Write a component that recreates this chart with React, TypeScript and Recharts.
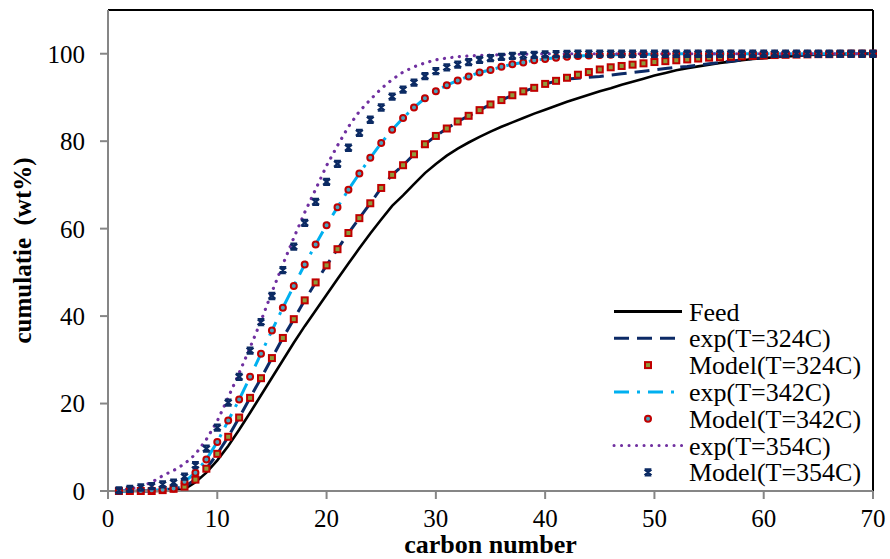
import { ComposedChart, Line, XAxis, YAxis, ReferenceLine } from 'recharts'

const FONT = '"Liberation Serif", "Times New Roman", serif'

// carbon numbers 1..70
const carbon = [
  1, 2, 3, 4, 5, 6, 7, 8, 9, 10, 11, 12, 13, 14, 15, 16, 17, 18, 19, 20,
  21, 22, 23, 24, 25, 26, 27, 28, 29, 30, 31, 32, 33, 34, 35, 36, 37, 38, 39, 40,
  41, 42, 43, 44, 45, 46, 47, 48, 49, 50, 51, 52, 53, 54, 55, 56, 57, 58, 59, 60,
  61, 62, 63, 64, 65, 66, 67, 68, 69, 70,
]

const feed = [
  0, 0, 0, 0, 0, 0.1, 0.4, 2.0, 4.2, 7.0,
  10.3, 14.0, 17.9, 21.9, 25.9, 29.9, 33.9, 37.7, 41.3, 44.9,
  48.5, 52.0, 55.5, 58.9, 62.1, 65.2, 67.6, 70.2, 72.7, 74.8,
  76.7, 78.3, 79.7, 81.0, 82.2, 83.3, 84.3, 85.3, 86.3, 87.2,
  88.1, 89.0, 89.8, 90.6, 91.4, 92.1, 92.9, 93.6, 94.3, 95.0,
  95.6, 96.2, 96.7, 97.1, 97.5, 97.9, 98.2, 98.5, 98.8, 99.0,
  99.2, 99.4, 99.5, 99.7, 99.8, 99.85, 99.9, 100, 100, 100,
]

const exp324 = [
  0, 0, 0, 0, 0.2, 0.5, 1.0, 2.6, 5.1, 8.5,
  12.4, 16.8, 21.3, 25.8, 30.4, 35.0, 39.3, 43.6, 47.7, 51.6,
  55.3, 59.0, 62.4, 65.8, 69.3, 72.3, 74.5, 77.0, 79.3, 81.2,
  82.9, 84.5, 85.8, 87.1, 88.4, 89.4, 90.5, 91.4, 92.2, 93.1,
  93.7, 94.2, 94.4, 94.6, 94.8, 95.1, 95.4, 95.7, 96.0, 96.3,
  96.6, 96.9, 97.1, 97.4, 97.7, 98.0, 98.3, 98.6, 98.9, 99.1,
  99.3, 99.5, 99.6, 99.7, 99.8, 99.85, 99.9, 99.95, 100, 100,
]

const model324 = [
  0, 0, 0, 0, 0.2, 0.5, 1.0, 2.6, 5.1, 8.5,
  12.4, 16.8, 21.3, 25.8, 30.4, 35.0, 39.3, 43.6, 47.7, 51.6,
  55.3, 59.0, 62.4, 65.8, 69.3, 72.3, 74.5, 77.0, 79.3, 81.2,
  82.9, 84.5, 85.8, 87.1, 88.4, 89.4, 90.5, 91.4, 92.2, 93.1,
  93.8, 94.5, 95.2, 95.8, 96.4, 96.9, 97.2, 97.5, 97.8, 98.1,
  98.3, 98.5, 98.7, 98.9, 99.1, 99.2, 99.3, 99.4, 99.5, 99.6,
  99.7, 99.75, 99.8, 99.85, 99.9, 99.9, 99.95, 100, 100, 100,
]

const exp342 = [
  0, 0, 0, 0.2, 0.3, 0.6, 2.1, 4.2, 7.2, 11.2,
  16.1, 20.9, 26.1, 31.4, 36.7, 41.9, 46.9, 51.8, 56.4, 60.8,
  64.9, 68.9, 72.6, 76.2, 79.6, 82.6, 85.3, 87.7, 89.8, 91.4,
  92.8, 93.9, 94.8, 95.7, 96.3, 97.0, 97.6, 98.0, 98.5, 98.8,
  99.1, 99.3, 99.5, 99.6, 99.7, 99.75, 99.8, 99.85, 99.9, 99.9,
  99.95, 100, 100, 100, 100, 100, 100, 100, 100, 100,
  100, 100, 100, 100, 100, 100, 100, 100, 100, 100,
]

const model342 = [
  0, 0, 0, 0.2, 0.3, 0.6, 2.1, 4.2, 7.2, 11.2,
  16.1, 20.9, 26.1, 31.4, 36.7, 41.9, 46.9, 51.8, 56.4, 60.8,
  64.9, 68.9, 72.6, 76.2, 79.6, 82.6, 85.3, 87.7, 89.8, 91.4,
  92.8, 93.9, 94.8, 95.7, 96.3, 97.0, 97.6, 98.0, 98.5, 98.8,
  99.1, 99.3, 99.5, 99.6, 99.7, 99.75, 99.8, 99.85, 99.9, 99.9,
  99.95, 100, 100, 100, 100, 100, 100, 100, 100, 100,
  100, 100, 100, 100, 100, 100, 100, 100, 100, 100,
]

const exp354 = [
  0.2, 0.5, 1.0, 2.0, 3.5, 4.7, 6.2, 8.4, 11.8, 16.0,
  21.4, 27.0, 32.8, 38.9, 45.5, 51.8, 57.9, 63.7, 69.0, 74.4,
  79.0, 83.3, 86.8, 89.5, 92.0, 94.1, 95.8, 97.0, 97.9, 98.6,
  99.0, 99.3, 99.5, 99.6, 99.7, 99.8, 99.85, 99.9, 99.95, 100,
  100, 100, 100, 100, 100, 100, 100, 100, 100, 100,
  100, 100, 100, 100, 100, 100, 100, 100, 100, 100,
  100, 100, 100, 100, 100, 100, 100, 100, 100, 100,
]

const model354 = [
  0.15, 0.5, 0.8, 1.1, 1.5, 1.9, 3.3, 5.9, 9.7, 14.5,
  20.2, 26.1, 32.1, 38.6, 44.6, 50.5, 55.9, 61.3, 66.1, 70.7,
  74.8, 78.5, 81.9, 84.9, 87.7, 90.2, 91.8, 93.4, 94.9, 96.0,
  96.9, 97.5, 98.1, 98.6, 99.0, 99.3, 99.5, 99.6, 99.75, 99.85,
  99.9, 99.95, 100, 100, 100, 100, 100, 100, 100, 100,
  100, 100, 100, 100, 100, 100, 100, 100, 100, 100,
  100, 100, 100, 100, 100, 100, 100, 100, 100, 100,
]

const xTicks = [0, 10, 20, 30, 40, 50, 60, 70]
const yTicks = [0, 20, 40, 60, 80, 100]

const NAVY = '#0c2a66'
const SKY = '#00b0f0'
const PURPLE = '#7030a0'
const RED = '#c00000'
const OLIVE = '#8f9b3c'
const TEAL = '#4aa3bd'
const MARK_X = '#0b2a63'
const GRAY = '#868686'

const rows = carbon.map((c, i) => ({
  c,
  feed: feed[i],
  exp324: exp324[i],
  model324: model324[i],
  exp342: exp342[i],
  model342: model342[i],
  exp354: exp354[i],
  model354: model354[i],
}))

function Square({ cx, cy }: { cx: number; cy: number }) {
  return <rect x={cx - 3} y={cy - 3} width={6} height={6} fill={OLIVE} stroke={RED} strokeWidth={2} />
}

function Circle({ cx, cy }: { cx: number; cy: number }) {
  return <circle cx={cx} cy={cy} r={3} fill={TEAL} stroke={RED} strokeWidth={2} />
}

// Excel-style "x" marker, looks like a little hourglass at this size
function Cross({ cx, cy }: { cx: number; cy: number }) {
  const a = 3.4
  const b = 3
  return (
    <path
      d={`M${cx - a},${cy - b}L${cx + a},${cy + b}M${cx + a},${cy - b}L${cx - a},${cy + b}M${cx - a},${cy - b}H${cx + a}M${cx - a},${cy + b}H${cx + a}`}
      stroke={MARK_X}
      strokeWidth={2.3}
      fill="none"
    />
  )
}

const squareDot = (p: any) => <Square key={`sq-${p.index}`} cx={p.cx} cy={p.cy} />
const circleDot = (p: any) => <Circle key={`ci-${p.index}`} cx={p.cx} cy={p.cy} />
const crossDot = (p: any) => <Cross key={`cr-${p.index}`} cx={p.cx} cy={p.cy} />

const legendItems = [
  { name: 'Feed', kind: 'line', stroke: '#000', dash: undefined, cap: 'butt' },
  { name: 'exp(T=324C)', kind: 'line', stroke: NAVY, dash: '15 8', cap: 'butt' },
  { name: 'Model(T=324C)', kind: 'square' },
  { name: 'exp(T=342C)', kind: 'line', stroke: SKY, dash: '15 8 3 8', cap: 'butt' },
  { name: 'Model(T=342C)', kind: 'circle' },
  { name: 'exp(T=354C)', kind: 'line', stroke: PURPLE, dash: '0.1 7.4', cap: 'round' },
  { name: 'Model(T=354C)', kind: 'cross' },
]

function LegendOverlay() {
  return (
    <svg width={890} height={559} style={{ position: 'absolute', left: 0, top: 0, pointerEvents: 'none' }}>
      {legendItems.map((it, i) => {
        const y = 311.5 + i * 26.8
        return (
          <g key={it.name}>
            {it.kind === 'line' && (
              <line x1={614} x2={682} y1={y} y2={y} stroke={it.stroke} strokeWidth={3}
                strokeDasharray={it.dash} strokeLinecap={it.cap as any} />
            )}
            {it.kind === 'square' && <Square cx={648} cy={y} />}
            {it.kind === 'circle' && <Circle cx={648} cy={y} />}
            {it.kind === 'cross' && <Cross cx={648} cy={y} />}
            <text x={689} y={y + 9} fontFamily={FONT} fontSize={26} fill="#000">{it.name}</text>
          </g>
        )
      })}
    </svg>
  )
}

export default function App() {
  const tickStyle = { fill: '#000', fontSize: 25, fontFamily: FONT }
  return (
    <div style={{ position: 'absolute', left: 0, top: 0, width: 890, height: 559, background: '#fff' }}>
      <ComposedChart width={890} height={559} data={rows} margin={{ top: 10, right: 17, bottom: 0, left: 0 }}>
        <XAxis
          type="number"
          dataKey="c"
          domain={[0, 70]}
          ticks={xTicks}
          height={68}
          tick={tickStyle}
          tickSize={8}
          tickMargin={10}
          axisLine={{ stroke: GRAY, strokeWidth: 2 }}
          tickLine={{ stroke: GRAY, strokeWidth: 2 }}
          label={{
            value: 'carbon number',
            position: 'insideBottom',
            offset: 6,
            style: { fontFamily: FONT, fontSize: 26, fontWeight: 'bold', fill: '#000' },
          }}
        />
        <YAxis
          type="number"
          domain={[0, 110]}
          ticks={yTicks}
          width={108}
          tick={tickStyle}
          tickSize={8}
          tickMargin={15}
          axisLine={{ stroke: GRAY, strokeWidth: 2 }}
          tickLine={{ stroke: GRAY, strokeWidth: 2 }}
          label={{
            value: 'cumulatie\u00a0 (wt%)',
            angle: -90,
            position: 'insideLeft',
            offset: 22,
            style: { fontFamily: FONT, fontSize: 25, fontWeight: 'bold', fill: '#000', textAnchor: 'middle' },
          }}
        />
        <ReferenceLine y={110} stroke="#000" strokeWidth={2} />
        <ReferenceLine x={70} stroke="#000" strokeWidth={2} />

        <Line dataKey="feed" type="linear" stroke="#000" strokeWidth={2.6} dot={false} activeDot={false} isAnimationActive={false} />
        <Line dataKey="exp324" type="linear" stroke={NAVY} strokeWidth={3} strokeDasharray="15 8" dot={false} activeDot={false} isAnimationActive={false} />
        <Line dataKey="model324" type="linear" stroke="none" dot={squareDot} activeDot={false} isAnimationActive={false} />
        <Line dataKey="exp342" type="linear" stroke={SKY} strokeWidth={3} strokeDasharray="15 8 3 8" dot={false} activeDot={false} isAnimationActive={false} />
        <Line dataKey="model342" type="linear" stroke="none" dot={circleDot} activeDot={false} isAnimationActive={false} />
        <Line dataKey="exp354" type="linear" stroke={PURPLE} strokeWidth={3.2} strokeDasharray="0.1 7.4" strokeLinecap="round" dot={false} activeDot={false} isAnimationActive={false} />
        <Line dataKey="model354" type="linear" stroke="none" dot={crossDot} activeDot={false} isAnimationActive={false} />
      </ComposedChart>
      <LegendOverlay />
    </div>
  )
}
